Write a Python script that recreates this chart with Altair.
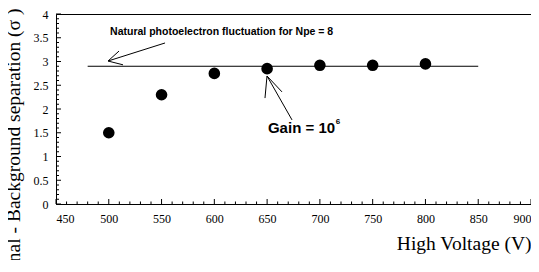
import altair as alt
import pandas as pd

# data points
hv = [500, 550, 600, 650, 700, 750, 800]
sep = [1.5, 2.3, 2.75, 2.85, 2.92, 2.92, 2.95]

# horizontal reference line (Npe = 8)
ref_x = [480]
ref_x2 = [850]
ref_y = [2.9]

# arrow segments (x, y, x2, y2) in data units
arr_x = [553.3, 499.3, 499.3, 673.6, 649.9, 649.9]
arr_y = [3.39, 3.01, 3.01, 1.77, 2.695, 2.695]
arr_x2 = [499.3, 509.7, 513.5, 649.9, 648.0, 664.1]
arr_y2 = [3.01, 3.22, 2.93, 2.695, 2.23, 2.36]

# tick values
x_major = [450, 500, 550, 600, 650, 700, 750, 800, 850, 900]
x_minor = [v for v in range(450, 901, 10) if v % 50 != 0]
y_major = [0, 0.5, 1, 1.5, 2, 2.5, 3, 3.5, 4]
y_minor = [round(i * 0.1, 1) for i in range(41) if i % 5 != 0]

W, H = 475, 190
SERIF = "Liberation Serif"

xs = alt.Scale(domain=[450, 900], nice=False, zero=False)
ys = alt.Scale(domain=[0, 4], nice=False)

x_axis = alt.Axis(values=x_major, ticks=False, grid=False, labelPadding=9,
                  labelFont=SERIF, labelFontSize=12, labelColor="black",
                  title="High Voltage (V)", titleAnchor="end", titleX=W,
                  titleAlign="right", titleY=39, titleBaseline="middle",
                  titleFont=SERIF, titleFontSize=19.5, titleFontWeight="normal", titleColor="black")
y_axis = alt.Axis(values=y_major, ticks=False, grid=False, labelPadding=8, format=".1~f",
                  labelFont=SERIF, labelFontSize=12, labelColor="black",
                  title="Signal - Background separation (σ )", titleAngle=-90,
                  titleAlign="right", titleX=-43, titleY=-6, titleBaseline="middle",
                  titleFont=SERIF, titleFontSize=19.5, titleFontWeight="normal", titleColor="black")


def X(f):
    return alt.X(f, type="quantitative", scale=xs, axis=x_axis)


def Y(f):
    return alt.Y(f, type="quantitative", scale=ys, axis=y_axis)


pts = alt.Chart(pd.DataFrame({"x": hv, "y": sep})).mark_point(
    filled=True, color="black", size=135, opacity=1
).encode(x=X("x"), y=Y("y"))

ref = alt.Chart(pd.DataFrame({"x": ref_x, "x2": ref_x2, "y": ref_y})).mark_rule(
    color="black", strokeWidth=1
).encode(x=X("x"), x2="x2", y=Y("y"))

arrows = alt.Chart(pd.DataFrame({"x": arr_x, "y": arr_y, "x2": arr_x2, "y2": arr_y2})).mark_rule(
    color="black", strokeWidth=1
).encode(x=X("x"), x2="x2", y=Y("y"), y2="y2")

xmaj = alt.Chart(pd.DataFrame({"x": x_major})).mark_rule(color="black").encode(
    x=X("x"), y=alt.value(H), y2=alt.value(H - 5))
xmin = alt.Chart(pd.DataFrame({"x": x_minor})).mark_rule(color="black").encode(
    x=X("x"), y=alt.value(H), y2=alt.value(H - 2.5))
ymaj = alt.Chart(pd.DataFrame({"y": y_major})).mark_rule(color="black").encode(
    y=Y("y"), x=alt.value(0), x2=alt.value(5))
ymin = alt.Chart(pd.DataFrame({"y": y_minor})).mark_rule(color="black").encode(
    y=Y("y"), x=alt.value(0), x2=alt.value(3))

t1 = alt.Chart(pd.DataFrame({"x": [501.2], "y": [3.62],
                             "t": ["Natural photoelectron fluctuation for Npe = 8"]})).mark_text(
    align="left", baseline="middle", font="Liberation Sans", fontWeight="bold",
    fontSize=10.5, color="black"
).encode(x=X("x"), y=Y("y"), text="t:N")

t2 = alt.Chart(pd.DataFrame({"x": [650.8], "y": [1.6], "t": ["Gain = 10"]})).mark_text(
    align="left", baseline="middle", font="Liberation Sans", fontWeight="bold",
    fontSize=15, color="black"
).encode(x=X("x"), y=Y("y"), text="t:N")

t3 = alt.Chart(pd.DataFrame({"x": [715.0], "y": [1.72], "t": ["6"]})).mark_text(
    align="left", baseline="middle", font="Liberation Sans", fontWeight="bold",
    fontSize=8, color="black"
).encode(x=X("x"), y=Y("y"), text="t:N")

chart = alt.layer(xmin, xmaj, ymin, ymaj, ref, arrows, pts, t1, t2, t3).properties(
    width=W, height=H,
    autosize=alt.AutoSizeParams(type="none"),
    padding={"left": 48, "top": 6, "right": 0, "bottom": 56},
).configure_view(stroke="black", strokeWidth=1).configure_axis(
    domainColor="black", domainWidth=1,
)

chart.save("out.html", embed_options={"renderer": "svg", "actions": False})
